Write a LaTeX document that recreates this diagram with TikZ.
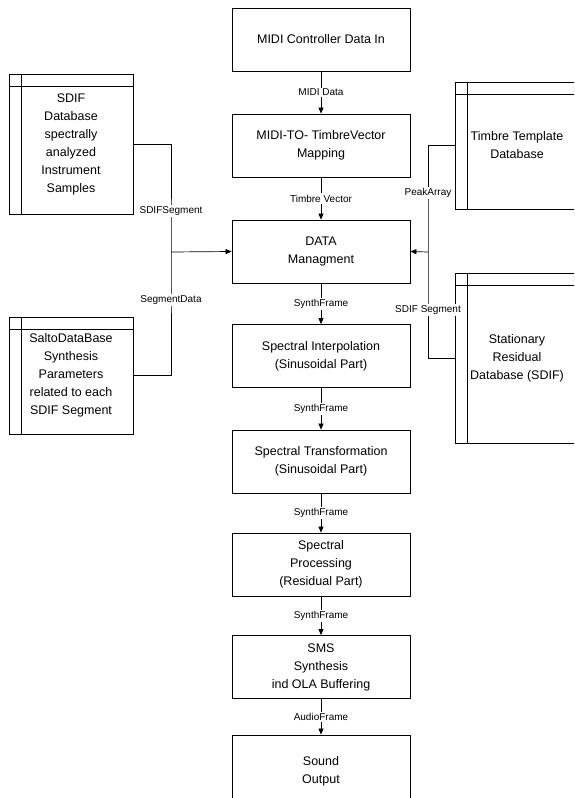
\documentclass[tikz,border=0pt]{standalone}
\usepackage{fontspec}
\setmainfont{Liberation Sans}
\usetikzlibrary{arrows.meta}
\begin{document}
\begin{tikzpicture}[x=1pt,y=-1pt,
  every node/.style={font=\fontsize{12.5}{18}\selectfont},
  proc/.style={draw, line width=0.8pt, minimum width=178pt, minimum height=63pt, align=center, inner sep=0pt},
  dbbox/.style={draw, line width=0.8pt, minimum width=124pt, align=center, inner sep=0pt,
    path picture={
     \draw[line width=0.8pt] ([xshift=12pt]path picture bounding box.north west) -- ([xshift=12pt]path picture bounding box.south west);
     \draw[line width=0.8pt] ([yshift=-12pt]path picture bounding box.north west) -- ([yshift=-12pt]path picture bounding box.north east);}},
  lbl/.style={fill=white, font=\fontsize{10}{12}\selectfont, inner sep=1.5pt},
  conn/.style={line width=0.7pt},
  arr/.style={line width=0.7pt, -{Triangle[length=6pt,width=5pt]}}
]
\useasboundingbox (0,0) rectangle (574,798);
\clip (0,0) rectangle (574,798);

\node[proc] (midi) at (321,39.5) {MIDI Controller Data In};
\node[proc] (map) at (321,145.5) {MIDI-TO- TimbreVector\\Mapping};
\node[proc] (data) at (321,251.5) {DATA\\Managment};
\node[proc] (interp) at (321,356) {Spectral Interpolation\\(Sinusoidal Part)};
\node[proc] (trans) at (321,461.5) {Spectral Transformation\\(Sinusoidal Part)};
\node[proc] (resproc) at (321,564.5) {Spectral\\Processing\\(Residual Part)};
\node[proc] (sms) at (321,667) {SMS\\Synthesis\\ind OLA Buffering};
\node[proc, minimum height=72pt] (out) at (321,771) {Sound\\Output};

\node[dbbox, minimum height=140pt] (sdif) at (71,144) {SDIF\\Database\\spectrally\\analyzed\\Instrument\\Samples};
\node[dbbox, minimum height=117pt] (salto) at (71,375.5) {SaltoDataBase\\Synthesis\\Parameters\\related to each\\SDIF Segment};
\node[dbbox, minimum height=127pt] (timbre) at (517,145.5) {Timbre Template\\Database};
\node[dbbox, minimum height=170pt] (resid) at (517,358) {Stationary\\Residual\\Database (SDIF)};

\draw[arr] (midi) -- node[lbl] (l1) {MIDI Data} (map);
\draw[arr] (map) -- node[lbl] (l2) {Timbre Vector} (data);
\draw[arr] (data) -- node[lbl] (l3) {SynthFrame} (interp);
\draw[arr] (interp) -- node[lbl] (l4) {SynthFrame} (trans);
\draw[arr] (trans) -- node[lbl] (l5) {SynthFrame} (resproc);
\draw[arr] (resproc) -- node[lbl] (l6) {SynthFrame} (sms);
\draw[arr] (sms) -- node[lbl] (l7) {AudioFrame} (out);

\coordinate (lj) at (171,252);
\draw[conn] (sdif.east) -| (lj) |- (salto.east);
\draw[arr] (lj) -- (data.west);
\node[lbl] (lsdif) at (171,211) {SDIFSegment};
\node[lbl] (lseg) at (171,300) {SegmentData};

\coordinate (rj) at (428,252);
\draw[conn] (timbre.west) -| (rj) |- (resid.west);
\draw[arr] (rj) -- (data.east);
\node[lbl] (lpeak) at (428,193) {PeakArray};
\node[lbl] (lsdifseg) at (428,310) {SDIF Segment};
\end{tikzpicture}
\end{document}
